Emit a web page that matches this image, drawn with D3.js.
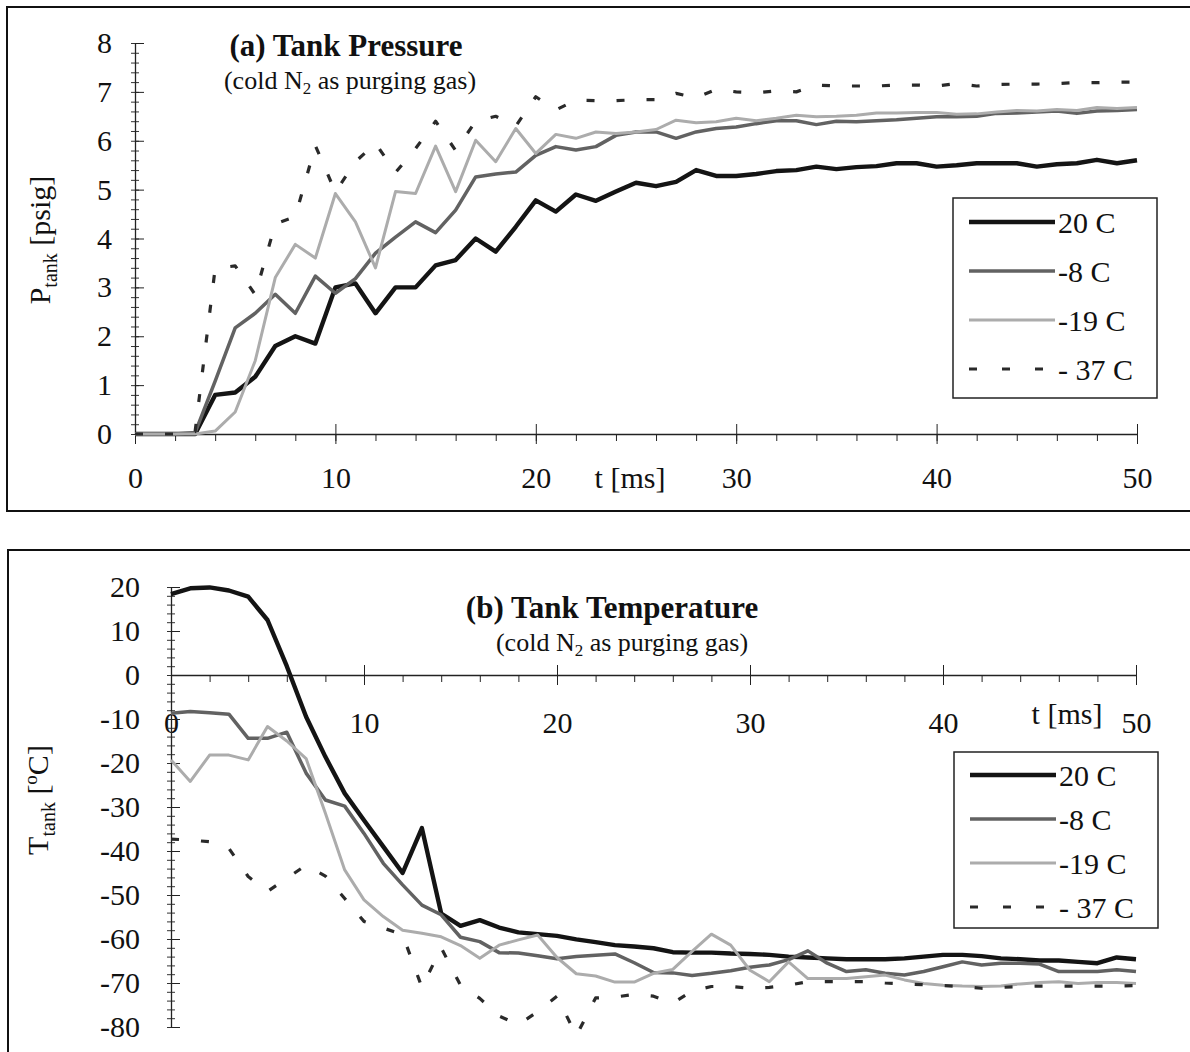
<!DOCTYPE html>
<html>
<head>
<meta charset="utf-8">
<script src="https://cdn.jsdelivr.net/npm/d3@7"></script>
<style>
  body { margin: 0; background: #fff; }
  svg { display: block; font-family: "Liberation Serif", "Times New Roman", serif; }
  .tick text { font-family: "Liberation Serif", serif; fill: #111; }
</style>
</head>
<body>
<div id="graph"></div>
<script>
// time axis (ms)
var times = [0,1,2,3,4,5,6,7,8,9,10,11,12,13,14,15,16,17,18,19,20,21,22,23,24,25,
  26,27,28,29,30,31,32,33,34,35,36,37,38,39,40,41,42,43,44,45,46,47,48,49,50];

var seriesNames = ["20 C", "-8 C", "-19 C", "- 37 C"];

// (a) tank pressure, psig
var p20 = [0,0,0,0,0.8,0.85,1.17,1.8,2.0,1.85,3.0,3.08,2.47,3.0,3.0,3.45,3.56,4.0,3.73,4.24,
  4.78,4.55,4.9,4.77,4.96,5.14,5.07,5.16,5.4,5.28,5.28,5.32,5.38,5.4,5.47,5.42,5.46,5.48,5.54,5.54,
  5.47,5.5,5.54,5.54,5.54,5.47,5.52,5.54,5.61,5.54,5.6];
var p8 = [0,0,0,0.03,1.08,2.17,2.47,2.86,2.47,3.23,2.88,3.18,3.7,4.03,4.34,4.12,4.58,5.26,5.32,5.36,
  5.7,5.88,5.81,5.88,6.11,6.18,6.18,6.05,6.18,6.25,6.28,6.35,6.41,6.41,6.33,6.4,6.39,6.41,6.43,6.46,
  6.49,6.49,6.5,6.56,6.57,6.59,6.61,6.56,6.61,6.62,6.64];
var p19 = [0,0,0,0,0.06,0.45,1.5,3.2,3.88,3.6,4.92,4.34,3.4,4.96,4.92,5.89,4.96,6.01,5.57,6.25,
  5.74,6.13,6.05,6.18,6.15,6.18,6.23,6.42,6.37,6.39,6.46,6.41,6.46,6.52,6.49,6.5,6.52,6.57,6.57,6.58,
  6.58,6.54,6.55,6.59,6.62,6.61,6.64,6.62,6.68,6.66,6.68];
var p37 = [0,0,0,0.05,3.39,3.44,2.85,4.3,4.45,5.9,4.95,5.57,5.95,5.35,5.84,6.4,5.8,6.4,6.5,6.3,
  6.9,6.63,6.83,6.82,6.82,6.84,6.84,6.97,6.88,7.05,7.0,6.98,7.02,7.0,7.14,7.12,7.12,7.12,7.14,7.14,
  7.12,7.17,7.12,7.15,7.16,7.16,7.17,7.19,7.19,7.2,7.2];

// (b) tank temperature, deg C
var t20 = [18.4,19.7,19.9,19.2,17.8,12.5,2.0,-9.5,-18.6,-26.9,-33,-39,-45,-34.8,-54.2,-57,-55.7,-57.4,-58.5,-58.9,
  -59.3,-60.1,-60.7,-61.4,-61.7,-62.1,-63,-63.1,-63.1,-63.3,-63.4,-63.6,-64.0,-64.2,-64.4,-64.6,-64.6,-64.6,-64.4,-64.0,
  -63.6,-63.6,-63.9,-64.4,-64.6,-64.9,-64.9,-65.2,-65.5,-64.2,-64.6];
var t8 = [-8.7,-8.3,-8.6,-8.9,-14.4,-14.4,-13,-22.3,-28.4,-29.8,-36,-42.8,-47.7,-52.3,-54.5,-59.6,-60.6,-63.1,-63.2,-63.8,
  -64.5,-64,-63.7,-63.4,-65.4,-67.6,-67.7,-68.3,-67.8,-67.2,-66.4,-65.9,-64.7,-62.7,-65.5,-67.4,-67,-67.8,-68.2,-67.4,
  -66.3,-65.2,-65.9,-65.5,-65.5,-65.7,-67.4,-67.4,-67.4,-67,-67.4];
var t19 = [-19.3,-24.2,-18.2,-18.2,-19.3,-11.7,-15,-19,-31.4,-44.3,-51.1,-54.9,-58,-58.7,-59.5,-61.5,-64.4,-61.4,-60.2,-59.1,
  -64.2,-67.9,-68.4,-69.8,-69.8,-67.8,-66.9,-62.8,-58.9,-61.4,-67.1,-69.7,-65.2,-69,-69,-69,-68.6,-68.2,-69.3,-70.1,
  -70.5,-70.7,-70.8,-70.7,-70.2,-69.9,-69.7,-70.1,-69.9,-69.9,-70.1];
var t37 = [-37.3,-37.5,-37.9,-39.4,-45.8,-49.2,-46.2,-43.2,-45.7,-50.8,-56,-57.5,-59,-71,-62,-70.5,-73.5,-77.5,-79.5,-76.5,
  -73,-82,-73.4,-73.2,-72.6,-73,-74.6,-71.8,-70.8,-70.8,-71.2,-71,-70.5,-69.7,-69.7,-69.7,-69.7,-70,-70.2,-70.4,
  -70.6,-70.8,-71.2,-71,-70.8,-70.7,-70.7,-70.7,-70.7,-70.7,-70.6];

var pTicks = [0,1,2,3,4,5,6,7,8];
var tTicks = [20,10,0,-10,-20,-30,-40,-50,-60,-70,-80];
var xTicks = [0,10,20,30,40,50];

var styles = [
  { color: "#141414", width: 4.4, dash: null },
  { color: "#626262", width: 3.5, dash: null },
  { color: "#acacac", width: 3, dash: null },
  { color: "#2a2a2a", width: 3.2, dash: "8,22" }
];

// plain hyphen for negative labels, as in the original
var fmt = function(d) { return String(d); };

var width = 1190, height = 1052;
var svg = d3.select("#graph").append("svg").attr("width", width).attr("height", height);

// panel frames
svg.append("rect").attr("x", 7).attr("y", 7).attr("width", 1200).attr("height", 504)
  .attr("fill", "none").attr("stroke", "#111").attr("stroke-width", 2);
svg.append("rect").attr("x", 8).attr("y", 550).attr("width", 1200).attr("height", 520)
  .attr("fill", "none").attr("stroke", "#111").attr("stroke-width", 2);

function drawPanel(opt) {
  var g = svg.append("g");
  var x = d3.scaleLinear().domain([0, 50]).range(opt.xRange);
  var y = d3.scaleLinear().domain(opt.yDomain).range(opt.yRange);
  var y0 = y(0);

  // minor x ticks (below axis only)
  g.append("g").attr("transform", "translate(0," + y0 + ")")
    .call(d3.axisBottom(x).tickValues(d3.range(0, 51, 2)).tickSize(7).tickFormat(""))
    .call(function(s) { s.select(".domain").remove(); s.selectAll("line").attr("stroke", "#222"); });

  // major x ticks crossing the axis
  var xa = g.append("g").attr("class", "axis x").attr("transform", "translate(0," + y0 + ")")
    .call(d3.axisBottom(x).tickValues(xTicks).tickSizeInner(10).tickSizeOuter(0)
      .tickPadding(opt.xLabelOffset).tickFormat(fmt));
  xa.selectAll(".tick line").attr("y1", -10).attr("stroke", "#222");
  xa.select(".domain").attr("stroke", "#222").attr("stroke-width", 1.3);
  xa.selectAll(".tick text").attr("font-size", opt.fs).attr("dy", "0.35em");

  // minor y ticks
  g.append("g").attr("transform", "translate(" + opt.xRange[0] + ",0)")
    .call(d3.axisLeft(y).tickValues(opt.yMinor).tickSize(4).tickFormat(""))
    .call(function(s) {
      s.select(".domain").remove();
      s.selectAll("line").attr("x2", 4).attr("x1", -4).attr("stroke", "#333");
    });

  var ya = g.append("g").attr("class", "axis y").attr("transform", "translate(" + opt.xRange[0] + ",0)")
    .call(d3.axisLeft(y).tickValues(opt.yTicks).tickSizeInner(9).tickSizeOuter(0)
      .tickPadding(opt.yLabelPad).tickFormat(fmt));
  ya.selectAll(".tick line").attr("x2", 9).attr("stroke", "#222");
  ya.select(".domain").attr("stroke", "#222").attr("stroke-width", 1.3);
  ya.selectAll(".tick text").attr("font-size", opt.fs);

  // series
  var line = d3.line().x(function(d, i) { return x(times[i]); }).y(function(d) { return y(d); });
  opt.series.forEach(function(s, i) {
    g.append("path").datum(s).attr("d", line)
      .attr("fill", "none")
      .attr("stroke", styles[i].color)
      .attr("stroke-width", styles[i].width)
      .attr("stroke-linejoin", "round")
      .attr("stroke-dasharray", styles[i].dash);
  });

  // titles
  g.append("text").attr("x", opt.titleX).attr("y", opt.titleY)
    .attr("text-anchor", "middle").attr("font-size", 31).attr("font-weight", "bold")
    .attr("fill", "#111").text(opt.title);
  var sub = g.append("text").attr("x", opt.titleX + opt.subDx).attr("y", opt.titleY + 33)
    .attr("text-anchor", "middle").attr("font-size", 26).attr("fill", "#111");
  sub.append("tspan").text("(cold N");
  sub.append("tspan").attr("font-size", 17).attr("dy", 5).text("2");
  sub.append("tspan").attr("dy", -5).text(" as purging gas)");

  // x axis title
  g.append("text").attr("x", opt.xTitle[0]).attr("y", opt.xTitle[1])
    .attr("text-anchor", "middle").attr("dominant-baseline", "central")
    .attr("font-size", opt.fs).attr("fill", "#111").text("t [ms]");

  // y axis title (rotated)
  var yt = g.append("text")
    .attr("transform", "translate(" + opt.yTitle[0] + "," + opt.yTitle[1] + ") rotate(-90)")
    .attr("text-anchor", "middle").attr("font-size", opt.fs).attr("fill", "#111");
  yt.append("tspan").text(opt.yName);
  yt.append("tspan").attr("font-size", 20).attr("dy", 7).text("tank");
  yt.append("tspan").attr("dy", -7).text(opt.yUnit[0]);
  if (opt.yUnit.length > 1) {
    yt.append("tspan").attr("font-size", 19).attr("dy", -11).text(opt.yUnit[1]);
    yt.append("tspan").attr("dy", 11).text(opt.yUnit[2]);
  }

  // legend
  var lg = g.append("g").attr("transform", "translate(" + opt.legend[0] + "," + opt.legend[1] + ")");
  lg.append("rect").attr("width", 204).attr("height", opt.legend[2])
    .attr("fill", "#fff").attr("stroke", "#222").attr("stroke-width", 1.5);
  var step = opt.legend[3];
  seriesNames.forEach(function(name, i) {
    var yy = opt.legend[4] + i * step;
    lg.append("line").attr("x1", 16).attr("x2", i === 3 ? 92 : 102).attr("y1", yy).attr("y2", yy)
      .attr("stroke", styles[i].color).attr("stroke-width", styles[i].width)
      .attr("stroke-dasharray", i === 3 ? "8,25" : styles[i].dash);
    lg.append("text").attr("x", 105).attr("y", yy).attr("dominant-baseline", "central")
      .attr("font-size", 30).attr("fill", "#111").text(name);
  });
}

drawPanel({
  xRange: [135, 1137], yDomain: [0, 8], yRange: [434, 43],
  yTicks: pTicks, yMinor: d3.range(0, 8.01, 0.2),
  xLabelOffset: 33, yLabelPad: 14, fs: 30,
  series: [p20, p8, p19, p37],
  title: "(a) Tank Pressure", titleX: 346, titleY: 56, subDx: 4,
  xTitle: [630, 477], yTitle: [50, 240], yName: "P", yUnit: [" [psig]"],
  legend: [953, 198, 200, 49, 24]
});

drawPanel({
  xRange: [171, 1136], yDomain: [-80, 20], yRange: [1027, 587],
  yTicks: tTicks, yMinor: d3.range(-80, 20.01, 2),
  xLabelOffset: 37, yLabelPad: 22, fs: 30,
  series: [t20, t8, t19, t37],
  title: "(b) Tank Temperature", titleX: 612, titleY: 618, subDx: 10,
  xTitle: [1067, 713], yTitle: [48, 800], yName: "T", yUnit: [" [", "o", "C]"],
  legend: [954, 752, 176, 44, 23]
});
</script>
</body>
</html>
